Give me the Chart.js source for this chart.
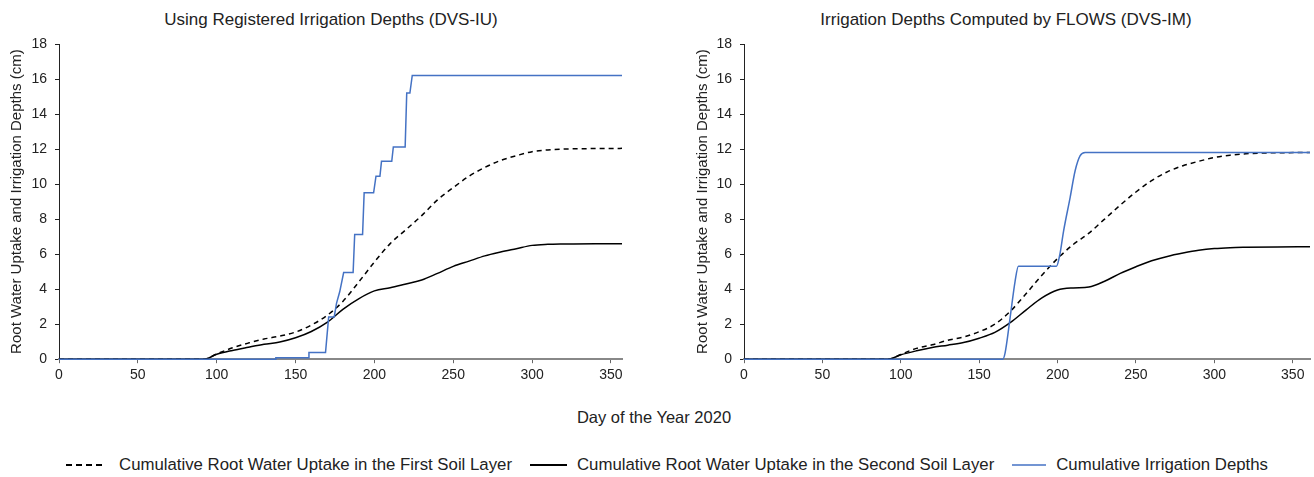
<!DOCTYPE html>
<html>
<head>
<meta charset="utf-8">
<title>Root water uptake and irrigation depths 2020</title>
<script src="https://cdn.jsdelivr.net/npm/chart.js@4.4.1/dist/chart.umd.min.js"></script>
<style>
  body {
    margin: 0;
    width: 1314px;
    height: 477px;
    overflow: hidden;
    position: relative;
    background: #fff;
    font-family: "Liberation Sans", Arial, sans-serif;
    color: #222;
  }
  canvas { position: absolute; top: 0; }
  #chartIU { left: 0; }
  #chartIM { left: 686px; }
  .panelTitle {
    position: absolute;
    top: 10px;
    width: 600px;
    line-height: 20px;
    text-align: center;
    font-size: 17px;
  }
  #titleIU { left: 31px; }   /* centred on x = 331 */
  #titleIM { left: 706px; }  /* centred on x = 1006 */
  #xTitle {
    position: absolute;
    top: 408px;
    left: 0;
    width: 1308px;
    text-align: center;
    font-size: 16.5px;
  }
  #legend {
    position: absolute;
    top: 455px;
    left: 0;
    width: 1334px;
    display: flex;
    justify-content: center;
    align-items: center;
    font-size: 16.8px;
  }
  .item { display: flex; align-items: center; margin: 0 9px; }
  .item svg { margin-right: 10px; }
  .item:first-child svg { margin-right: 13px; }
</style>
</head>
<body>
<div id="titleIU" class="panelTitle">Using Registered Irrigation Depths (DVS-IU)</div>
<div id="titleIM" class="panelTitle">Irrigation Depths Computed by FLOWS (DVS-IM)</div>
<canvas id="chartIU" width="662" height="388"></canvas>
<canvas id="chartIM" width="640" height="388"></canvas>
<div id="xTitle">Day of the Year 2020</div>
<div id="legend"></div>

<script>
// series names
const seriesNames = [
  "Cumulative Root Water Uptake in the First Soil Layer",
  "Cumulative Root Water Uptake in the Second Soil Layer",
  "Cumulative Irrigation Depths"
];

// DVS-IU run (registered irrigation depths)
const daysIU = [0, 92, 100, 110, 120, 130, 140, 150, 160, 170, 180, 190, 200, 210, 220, 230, 240, 250, 260, 270, 280, 290, 300, 310, 320, 340, 357];
const firstLayerIU = [0, 0, 0.3, 0.65, 0.92, 1.15, 1.32, 1.55, 1.95, 2.5, 3.3, 4.4, 5.55, 6.6, 7.4, 8.2, 9.1, 9.8, 10.45, 10.95, 11.35, 11.62, 11.85, 11.95, 12.0, 12.03, 12.04];
const secondLayerIU = [0, 0, 0.28, 0.5, 0.68, 0.85, 0.98, 1.22, 1.58, 2.1, 2.85, 3.45, 3.9, 4.08, 4.3, 4.52, 4.9, 5.3, 5.6, 5.9, 6.12, 6.31, 6.5, 6.56, 6.58, 6.6, 6.6];
const irrDaysIU = [0, 137, 137.5, 158, 158.5, 169, 170, 171, 174.5, 176, 178, 180.5, 186.5, 187.5, 192.5, 193.5, 199.5, 201, 203.5, 204.5, 211, 212, 219.5, 220.5, 222.5, 224, 357];
const irrigationIU = [0, 0, 0.08, 0.08, 0.38, 0.38, 1.4, 2.41, 2.41, 3.2, 3.85, 4.95, 4.95, 7.12, 7.12, 9.5, 9.5, 10.45, 10.45, 11.3, 11.3, 12.12, 12.12, 15.2, 15.2, 16.2, 16.2];

// DVS-IM run (irrigation depths computed by FLOWS)
const daysIM = [0, 92, 100, 110, 120, 130, 140, 150, 160, 170, 180, 190, 200, 210, 220, 230, 240, 250, 260, 270, 280, 290, 300, 310, 320, 340, 361];
const firstLayerIM = [0, 0, 0.27, 0.62, 0.82, 1.08, 1.27, 1.57, 2.0, 2.75, 3.75, 4.8, 5.75, 6.55, 7.2, 8.0, 8.8, 9.55, 10.2, 10.7, 11.05, 11.3, 11.52, 11.65, 11.73, 11.79, 11.8];
const secondLayerIM = [0, 0, 0.25, 0.48, 0.67, 0.8, 0.95, 1.2, 1.53, 2.1, 2.82, 3.5, 3.95, 4.07, 4.12, 4.45, 4.9, 5.28, 5.62, 5.87, 6.06, 6.22, 6.32, 6.37, 6.39, 6.41, 6.42];
const irrDaysIM = [0, 165, 166.5, 169.7, 172.9, 175, 199.3, 201.5, 203.8, 208, 211.2, 214.4, 217.6, 361];
const irrigationIM = [0, 0, 0.35, 2.35, 4.45, 5.31, 5.31, 6.0, 7.3, 9.23, 10.76, 11.62, 11.81, 11.81];

const yTicks = { min: 0, max: 18, step: 2 };
const xStep = 50;

const BLUE = "#4472c4";
const TEXT = "#222";
const DASH = [5, 4];

function toPoints(xs, ys) {
  return xs.map((x, i) => ({ x: x, y: ys[i] }));
}

function makeChart(id, opts) {
  const ctx = document.getElementById(id).getContext("2d");
  return new Chart(ctx, {
    type: "line",
    data: {
      datasets: [
        {
          label: seriesNames[0],
          data: toPoints(opts.days, opts.first),
          borderColor: "#000",
          borderWidth: 1.5,
          borderDash: DASH,
          cubicInterpolationMode: "monotone",
          order: 1,
        },
        {
          label: seriesNames[1],
          data: toPoints(opts.days, opts.second),
          borderColor: "#000",
          borderWidth: 1.5,
          cubicInterpolationMode: "monotone",
          order: 2,
        },
        {
          label: seriesNames[2],
          data: toPoints(opts.irrDays, opts.irr),
          borderColor: BLUE,
          borderWidth: 1.5,
          tension: 0,
          cubicInterpolationMode: opts.smoothIrr ? "monotone" : "default",
          order: 0,
        },
      ],
    },
    options: {
      responsive: false,
      animation: false,
      clip: false,
      elements: { point: { radius: 0 } },
      layout: { padding: { left: 0, right: opts.padRight, top: 44, bottom: 0 } },
      plugins: {
        legend: { display: false },
        tooltip: { enabled: false },
      },
      scales: {
        x: {
          type: "linear",
          min: 0,
          max: opts.maxDay,
          ticks: {
            stepSize: xStep,
            includeBounds: false,
            maxRotation: 0,
            color: TEXT,
            padding: 4,
            font: { family: "Liberation Sans", size: 14 },
          },
          grid: { drawOnChartArea: false, drawTicks: true, tickLength: 4, color: "#666" },
          border: { color: "#888", width: 2 },
        },
        y: {
          min: yTicks.min,
          max: yTicks.max,
          ticks: {
            stepSize: yTicks.step,
            color: TEXT,
            padding: 8,
            font: { family: "Liberation Sans", size: 14 },
          },
          grid: { drawOnChartArea: false, drawTicks: true, tickLength: 4, color: "#222" },
          border: { color: "#222", width: 1 },
          title: {
            display: true,
            text: "Root Water Uptake and Irrigation Depths (cm)",
            color: TEXT,
            font: { family: "Liberation Sans", size: 15 },
            padding: { top: 8, bottom: 0 },
          },
          afterFit: (scale) => { scale.width = opts.axisWidth; },
        },
      },
    },
  });
}

makeChart("chartIU", {
  days: daysIU, first: firstLayerIU, second: secondLayerIU,
  irrDays: irrDaysIU, irr: irrigationIU,
  maxDay: 357, padRight: 40, axisWidth: 59, smoothIrr: false,
});

makeChart("chartIM", {
  days: daysIM, first: firstLayerIM, second: secondLayerIM,
  irrDays: irrDaysIM, irr: irrigationIM,
  maxDay: 361, padRight: 16, axisWidth: 58, smoothIrr: true,
});

// shared legend under both panels
const legendStyles = [
  { color: "#000", dash: "6,4", len: 40 },
  { color: "#000", dash: "", len: 37 },
  { color: BLUE, dash: "", len: 34 },
];
const legendEl = document.getElementById("legend");
seriesNames.forEach((name, i) => {
  const s = legendStyles[i];
  const item = document.createElement("div");
  item.className = "item";
  item.innerHTML =
    '<svg width="' + s.len + '" height="4"><line x1="0" y1="2" x2="' + s.len + '" y2="2" stroke="' + s.color +
    '" stroke-width="' + (i === 2 ? 1.5 : 2) + '"' + (s.dash ? ' stroke-dasharray="' + s.dash + '"' : "") +
    '/></svg><span>' + name + "</span>";
  legendEl.appendChild(item);
});
</script>
</body>
</html>
